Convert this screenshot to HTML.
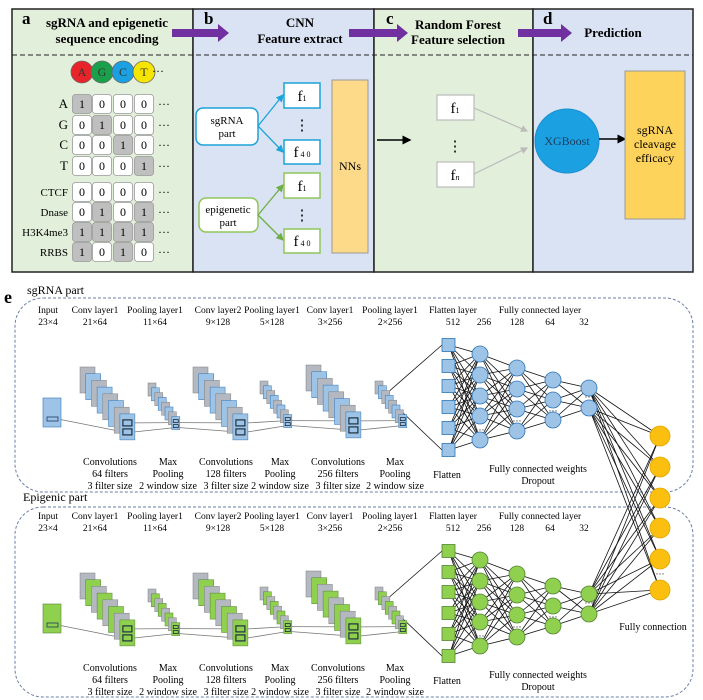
<!DOCTYPE html>
<html><head><meta charset="utf-8"><style>
html,body{margin:0;padding:0;background:#fff;width:703px;height:700px;overflow:hidden}
svg{display:block;font-family:"Liberation Serif",serif}
</style></head><body>
<svg id="fig" width="703" height="700" viewBox="0 0 703 700" xmlns="http://www.w3.org/2000/svg">
<defs>
<marker id="ah" markerWidth="6" markerHeight="6" refX="5" refY="3" orient="auto"><path d="M0,0 L6,3 L0,6 z" fill="#000"/></marker>
<marker id="ahg" markerWidth="6" markerHeight="6" refX="5" refY="3" orient="auto"><path d="M0,0 L6,3 L0,6 z" fill="#1ca3d9"/></marker>
<marker id="ahgr" markerWidth="6" markerHeight="6" refX="5" refY="3" orient="auto"><path d="M0,0 L6,3 L0,6 z" fill="#70ad47"/></marker>
<marker id="ahy" markerWidth="6" markerHeight="6" refX="5" refY="3" orient="auto"><path d="M0,0 L6,3 L0,6 z" fill="#bbb"/></marker>
</defs>
<rect x="12" y="9" width="181" height="263" fill="#e2efda" stroke="#222" stroke-width="1.5"/>
<rect x="193" y="9" width="181" height="263" fill="#dae3f3" stroke="#222" stroke-width="1.5"/>
<rect x="374" y="9" width="159" height="263" fill="#e2efda" stroke="#222" stroke-width="1.5"/>
<rect x="533" y="9" width="160" height="263" fill="#dae3f3" stroke="#222" stroke-width="1.5"/>
<line x1="12" y1="55" x2="693" y2="55" stroke="#222" stroke-dasharray="5,3"/>
<g font-weight="bold" font-size="13" text-anchor="middle">
<text x="22" y="24" font-size="17" text-anchor="start">a</text>
<text x="107" y="27">sgRNA and epigenetic</text>
<text x="107" y="43">sequence encoding</text>
<text x="204" y="24" font-size="17" text-anchor="start">b</text>
<text x="300" y="27">CNN</text>
<text x="300" y="43">Feature extract</text>
<text x="386" y="24" font-size="17" text-anchor="start">c</text>
<text x="458" y="29">Random Forest</text>
<text x="458" y="44">Feature selection</text>
<text x="543" y="24" font-size="17" text-anchor="start">d</text>
<text x="613" y="37">Prediction</text>
</g>
<g id="arrows" fill="#7030a0"></g>
<g id="tableA"></g>
<g font-size="11" text-anchor="middle">
<rect x="196" y="108" width="62" height="37" rx="7" fill="#fff" stroke="#1ca3d9" stroke-width="1.5"/>
<text x="227" y="124">sgRNA</text>
<text x="227" y="137">part</text>
<rect x="199" y="198" width="59" height="34" rx="7" fill="#fff" stroke="#8fc65a" stroke-width="1.5"/>
<text x="228" y="213">epigenetic</text>
<text x="228" y="226">part</text>
</g>
<g fill="none" stroke-width="1.3">
<line x1="258" y1="126" x2="283" y2="95" stroke="#1ca3d9" marker-end="url(#ahg)"/>
<line x1="258" y1="126" x2="283" y2="152" stroke="#1ca3d9" marker-end="url(#ahg)"/>
<line x1="258" y1="215" x2="283" y2="185" stroke="#70ad47" marker-end="url(#ahgr)"/>
<line x1="258" y1="215" x2="283" y2="240" stroke="#70ad47" marker-end="url(#ahgr)"/>
</g>
<g font-size="15" text-anchor="middle">
<rect x="284" y="83" width="36" height="25" fill="#fff" stroke="#1ca3d9" stroke-width="1.5"/>
<text x="302" y="101">f<tspan font-size="8">1</tspan></text>
<text x="302" y="130">⋮</text>
<rect x="284" y="140" width="36" height="24" fill="#fff" stroke="#1ca3d9" stroke-width="1.5"/>
<text x="302" y="157">f<tspan font-size="8"> 4 0</tspan></text>
<rect x="284" y="173" width="36" height="25" fill="#fff" stroke="#8fc65a" stroke-width="1.5"/>
<text x="302" y="191">f<tspan font-size="8">1</tspan></text>
<text x="302" y="220">⋮</text>
<rect x="284" y="229" width="36" height="24" fill="#fff" stroke="#8fc65a" stroke-width="1.5"/>
<text x="302" y="246">f<tspan font-size="8"> 4 0</tspan></text>
</g>
<rect x="332" y="80" width="36" height="173" fill="#fdd98a" stroke="#999" stroke-width="1"/>
<text x="350" y="170" font-size="12" text-anchor="middle">NNs</text>
<line x1="377" y1="140" x2="410" y2="140" stroke="#000" stroke-width="1.5" marker-end="url(#ah)"/>
<g font-size="15" text-anchor="middle">
<rect x="437" y="95" width="37" height="25" fill="#fff" stroke="#bbb" stroke-width="1.2"/>
<text x="455" y="113">f<tspan font-size="8">1</tspan></text>
<text x="455" y="151">⋮</text>
<rect x="437" y="162" width="37" height="25" fill="#fff" stroke="#bbb" stroke-width="1.2"/>
<text x="455" y="180">f<tspan font-size="8" font-style="italic">n</tspan></text>
</g>
<line x1="474" y1="108" x2="527" y2="131" stroke="#bbb" stroke-width="1.2" marker-end="url(#ahy)"/>
<line x1="474" y1="174" x2="527" y2="148" stroke="#bbb" stroke-width="1.2" marker-end="url(#ahy)"/>
<circle cx="567" cy="141" r="32" fill="#1ba1e2" stroke="#1a8fd0"/>
<text x="567" y="145" font-size="12" text-anchor="middle" fill="#1d3a5c">XGBoost</text>
<line x1="599" y1="139" x2="625" y2="139" stroke="#000" stroke-width="1.5" marker-end="url(#ah)"/>
<rect x="625" y="71" width="60" height="148" fill="#fdd35c" stroke="#999"/>
<g font-size="12" text-anchor="middle">
<text x="655" y="134">sgRNA</text>
<text x="655" y="148">cleavage</text>
<text x="655" y="162">efficacy</text>
</g>
<text x="4" y="303" font-size="18" font-weight="bold">e</text>
<text x="27" y="294" font-size="12">sgRNA part</text>
<text x="23" y="501" font-size="12">Epigenic part</text>
<rect x="15" y="298" width="678" height="194" rx="28" fill="none" stroke="#6a7ea8" stroke-dasharray="3,2"/>
<rect x="15" y="507" width="678" height="190" rx="28" fill="none" stroke="#6a7ea8" stroke-dasharray="3,2"/>
<g id="net"></g>
<text x="653" y="630" font-size="10" text-anchor="middle">Fully connection</text>
</svg>
<script>
const NS='http://www.w3.org/2000/svg';
function mk(parent,tag,attrs,txt){const e=document.createElementNS(NS,tag);for(const k in attrs)e.setAttribute(k,attrs[k]);if(txt!==undefined)e.textContent=txt;parent.appendChild(e);return e;}
const arrowSpans=[[172,229],[349,408],[518,572]];
const ag=document.getElementById('arrows');
arrowSpans.forEach(([a,b],i)=>{
  const p=mk(ag,'polygon',{points:`${a},29 ${b-11},29 ${b-11},24 ${b},33 ${b-11},42 ${b-11},37 ${a},37`});
  
  
});
const rowLabels=['A','G','C','T','CTCF','Dnase','H3K4me3','RRBS'];
const rowY=[104,125,145,166,192,212,232,252];
const cellValues=[[1,0,0,0],[0,1,0,0],[0,0,1,0],[0,0,0,1],[0,0,0,0],[0,1,0,1],[1,1,1,1],[1,0,1,0]];
const bases=['A','G','C','T'];
const baseColors=['#e8242a','#1aa04a','#1ba1e2','#f5e500'];
const colX=[82,102,123,144];
const tg=document.getElementById('tableA');
bases.forEach((b,i)=>{
  const c=mk(tg,'circle',{cx:colX[i],cy:72,r:11,fill:baseColors[i],stroke:'#666','stroke-width':0.8});
  
  
  const t=mk(tg,'text',{x:colX[i],y:76,'font-size':12,'text-anchor':'middle',fill:'#333'},b);
  
  
});
const hd=mk(tg,'text',{x:152,y:75,'font-size':12},'···');


rowLabels.forEach((lab,r)=>{
  const y=rowY[r];
  const lt=mk(tg,'text',{x:68,y:y+4,'font-size':r<4?13:11,'text-anchor':'end'},lab);
  
  
  cellValues[r].forEach((v,c)=>{
    const rc=mk(tg,'rect',{x:colX[c]-9.5,y:y-9.5,width:19,height:19,rx:3,fill:v?'#bfbfbf':'#fff',stroke:'#999','stroke-width':0.8});
    
    
    const ct=mk(tg,'text',{x:colX[c],y:y+4,'font-size':12,'text-anchor':'middle'},String(v));
    
    
  });
  const el=mk(tg,'text',{x:158,y:y+4,'font-size':12},'···');
  
  
});
const layerTitles=['Input','Conv layer1','Pooling layer1','Conv layer2','Pooling layer1','Conv layer1','Pooling layer1'];
const layerDims=['23×4','21×64','11×64','9×128','5×128','3×256','2×256'];
const layerTitleX=[48,95,155,218,272,330,390];
const captions=[['Convolutions','64 filters','3 filter size'],['Max','Pooling','2 window size'],['Convolutions','128 filters','3 filter size'],['Max','Pooling','2 window size'],['Convolutions','256 filters','3 filter size'],['Max','Pooling','2 window size']];
const captionX=[110,168,226,280,338,395];
const fcSizes=['512','256','128','64','32'];
const fcSizeX=[453,484,517,550,584];
const stacks=[{x:80,y:367,w:15,h:26,big:1},{x:148,y:383,w:8,h:13,big:0},{x:193,y:367,w:15,h:26,big:1},{x:260,y:381,w:8,h:13,big:0},{x:306,y:365,w:15,h:26,big:1},{x:375,y:381,w:8,h:13,big:0}];
const flatY=[345,366,386,407,428,450];
const fcLayers=[{x:480,ys:[354,375,396,416,440],dots:431},{x:517,ys:[368,389,409,431],dots:422},{x:553,ys:[380,400,420],dots:412},{x:589,ys:[388,408],dots:398}];
const outY=[436,467,498,528,559,590];
const net=document.getElementById('net');
const parts=[{dy:0,fill:'#9dc3e6',stroke:'#2e75b6',name:'sgrna'},{dy:206,fill:'#8fd14f',stroke:'#548235',name:'epi'}];
parts.forEach(P=>{
  const g=mk(net,'g',{});
  
  
  const dy=P.dy;
  const lines=mk(g,'g',{stroke:'#111','stroke-width':0.8});
  
  
  layerTitles.forEach((t,i)=>{
    const a=mk(g,'text',{x:layerTitleX[i],y:313+dy,'font-size':9.5,'text-anchor':'middle'},t);
    
    
    const b=mk(g,'text',{x:layerTitleX[i],y:325+dy,'font-size':9.5,'text-anchor':'middle'},layerDims[i]);
    
    
  });
  const ft=mk(g,'text',{x:453,y:313+dy,'font-size':9.5,'text-anchor':'middle'},'Flatten layer');
  
  
  const fct=mk(g,'text',{x:540,y:313+dy,'font-size':9.5,'text-anchor':'middle'},'Fully connected layer');
  
  
  fcSizes.forEach((s,i)=>{
    const t=mk(g,'text',{x:fcSizeX[i],y:325+dy,'font-size':9.5,'text-anchor':'middle'},s);
    
    
  });
  captions.forEach((c,i)=>{
    c.forEach((l,j)=>{
      const t=mk(g,'text',{x:captionX[i],y:465+dy+j*12,'font-size':10,'text-anchor':'middle'},l);
      
      
    });
  });
  const inp=mk(g,'rect',{x:43,y:398+dy,width:18,height:29,fill:P.fill,stroke:P.stroke,'stroke-width':0.6});
  
  
  const inw=mk(g,'rect',{x:47,y:417+dy,width:11,height:4,fill:'none',stroke:'#1f3864','stroke-width':0.8});
  
  
  let prev=[[58,419+dy]];
  stacks.forEach((S,si)=>{
    const n=8, sx=S.big?5.7:3.4, sy=S.big?6.7:4.8;
    let fx,fy;
    for(let k=0;k<n;k++){
      fx=S.x+k*sx; fy=S.y+k*sy;
      const r=mk(g,'rect',{x:fx,y:fy+dy,width:S.w,height:S.h,fill:k%2?P.fill:(k===n-1?P.fill:'#b4b8c0'),stroke:k%2?P.stroke:'#7f7f7f','stroke-width':0.5});
      
      
    }
    const wa=S.big?[fy+6,fy+15]:[fy+3,fy+8];
    wa.forEach((wy,j)=>{
      const w=mk(g,'rect',{x:fx+(S.big?3:1.5),y:wy+dy,width:S.big?9:5,height:S.big?6:3,fill:'none',stroke:'#1f2f3f','stroke-width':S.big?1.2:0.8});
      
      
    });
    const tgt=[[fx+3,wa[0]+3+dy],[fx+3,wa[1]+3+dy]];
    if(si===0){
      mk(lines,'line',{x1:prev[0][0],y1:prev[0][1],x2:tgt[1][0],y2:tgt[1][1],stroke:'#777'});
    } else {
      mk(lines,'line',{x1:prev[0][0],y1:prev[0][1],x2:tgt[0][0],y2:tgt[0][1],stroke:'#777'});
      mk(lines,'line',{x1:prev[1][0],y1:prev[1][1],x2:tgt[1][0],y2:tgt[1][1],stroke:'#777'});
    }
    prev=[[fx+S.w,wa[0]+3+dy],[fx+S.w,wa[1]+3+dy]];
  });
  mk(lines,'line',{x1:386,y1:394+dy,x2:442,y2:flatY[0]+dy});
  mk(lines,'line',{x1:400,y1:410+dy,x2:442,y2:flatY[flatY.length-1]+dy});
  const cols=[{x:449,ys:flatY}].concat(fcLayers.map(l=>({x:l.x,ys:l.ys})));
  for(let i=0;i<cols.length-1;i++){
    cols[i].ys.forEach(a=>cols[i+1].ys.forEach(b=>mk(lines,'line',{x1:cols[i].x,y1:a+dy,x2:cols[i+1].x,y2:b+dy})));
  }
  const last=cols[cols.length-1];
  last.ys.forEach(a=>outY.forEach(b=>mk(lines,'line',{x1:last.x,y1:a+dy,x2:660,y2:b})));
  flatY.forEach((y,i)=>{
    const s=mk(g,'rect',{x:442,y:y-6.5+dy,width:13,height:13,fill:P.fill,stroke:P.stroke,'stroke-width':0.8});
    
    
  });
  fcLayers.forEach((L,li)=>{
    L.ys.forEach((y,i)=>{
      const c=mk(g,'circle',{cx:L.x,cy:y+dy,r:8,fill:P.fill,stroke:P.stroke,'stroke-width':0.8});
      
      
    });
    const d=mk(g,'text',{x:L.x,y:L.dots+dy+2,'font-size':9,'text-anchor':'middle'},'···');
    
    
  });
  const fl=mk(g,'text',{x:447,y:478+dy,'font-size':10,'text-anchor':'middle'},'Flatten');
  
  
  const w1=mk(g,'text',{x:538,y:472+dy,'font-size':10,'text-anchor':'middle'},'Fully connected  weights');
  
  
  const w2=mk(g,'text',{x:538,y:484+dy,'font-size':10,'text-anchor':'middle'},'Dropout');
  
  
});
outY.forEach((y,i)=>{
  const c=mk(net,'circle',{cx:660,cy:y,r:10,fill:'#fbbf0f',stroke:'#e0a800','stroke-width':0.8});
  
  
});
const od=mk(net,'text',{x:660,y:577,'font-size':9,'text-anchor':'middle'},'···');


</script>
</body></html>
